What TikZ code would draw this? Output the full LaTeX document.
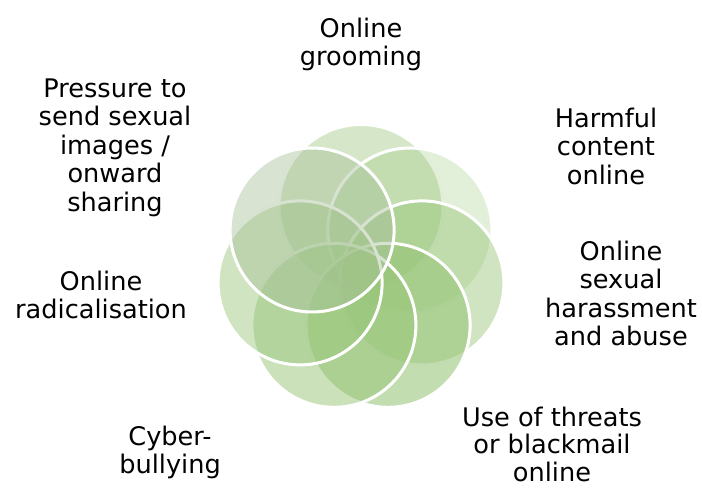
\documentclass[tikz,border=0pt]{standalone}
\usepackage{fontspec}
\setmainfont{DejaVu Sans}
\newcommand\ls{\rule[-6pt]{0pt}{26pt}}
\newcommand\lsend{\rule{0pt}{20pt}}
\definecolor{grn}{RGB}{150,196,118}
\definecolor{grngray}{RGB}{168,192,155}
\tikzset{
  blob/.style={circle, draw=white, line width=3pt, inner sep=0pt, minimum size=164pt, fill=grn},
  lbl/.style={anchor=north, align=center, inner sep=0pt, font=\fontsize{25.6}{28.5}\selectfont, text=black}
}
\begin{document}
\begin{tikzpicture}[x=1pt,y=-1pt]
\useasboundingbox (0,0) rectangle (702,489);
\node[blob, fill opacity=0.40] (c1) at (361,206.5) {};
\node[blob, fill opacity=0.28] (c2) at (409.9,230.0) {};
\node[blob, fill opacity=0.45] (c3) at (421.9,282.9) {};
\node[blob, fill opacity=0.58] (c4) at (388.1,325.3) {};
\node[blob, fill opacity=0.50] (c5) at (333.9,325.3) {};
\node[blob, fill opacity=0.45] (c6) at (300.1,282.9) {};
\node[blob, fill=grngray, fill opacity=0.45] (c7) at (312.1,230.0) {};
\node[lbl] (t1) at (361,17) {\ls Online\\\ls grooming};
\node[lbl] (t2) at (606,107) {\ls Harmful\\\ls content\\\ls online};
\node[lbl] (t3) at (621,240) {\ls Online\\\ls sexual\\\ls harassment\\\ls and abuse};
\node[lbl, font=\fontsize{25.6}{27.5}\selectfont] (t4) at (552,406) {\ls Use of threats\\\ls or blackmail\\\lsend online};
\node[lbl] (t5) at (170,425) {\ls Cyber-\\\ls bullying};
\node[lbl] (t6) at (101,270) {\ls Online\\\ls radicalisation};
\node[lbl] (t7) at (115,77) {\ls Pressure to\\\ls send sexual\\\ls images /\\\ls onward\\\ls sharing};
\end{tikzpicture}
\end{document}
